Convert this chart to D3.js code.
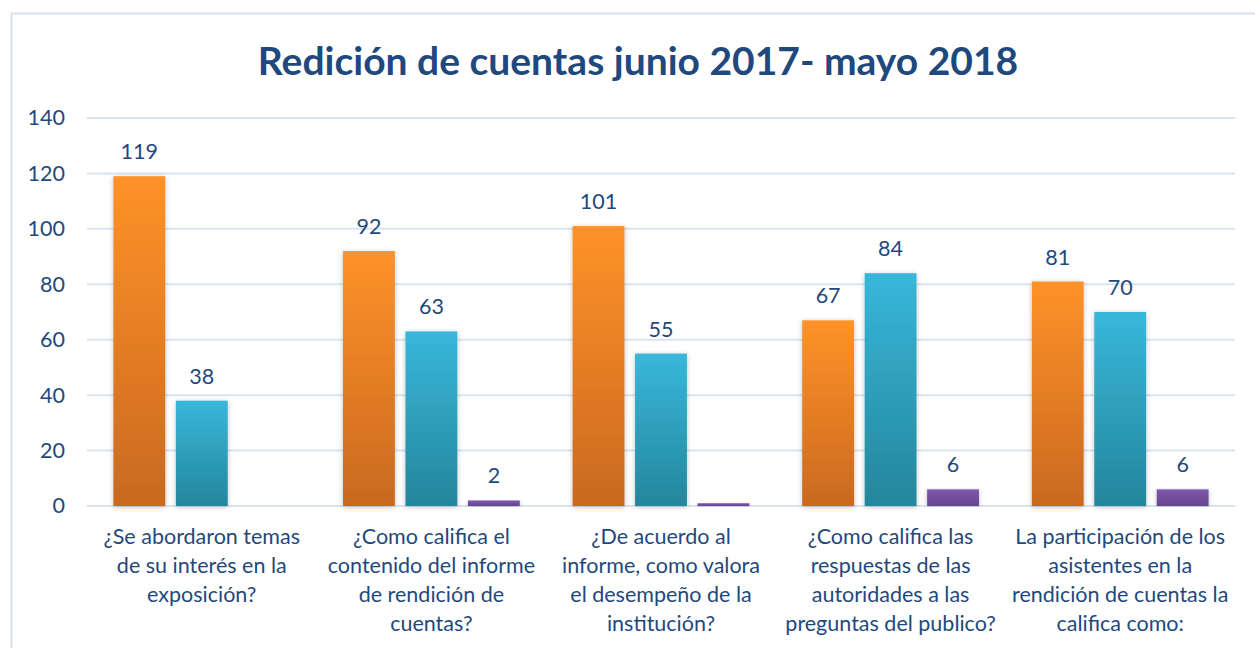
<!DOCTYPE html>
<html>
<head>
<meta charset="utf-8">
<script src="https://cdn.jsdelivr.net/npm/d3@7"></script>
<style>
  body { margin: 0; background: #fff; }
  svg { font-family: Lato, "Open Sans", sans-serif; }
</style>
</head>
<body>
<div id="my_dataviz"></div>
<script>
// chart data
const categories = [
  ["¿Se abordaron temas", "de su interés en la", "exposición?"],
  ["¿Como califica el", "contenido del informe", "de rendición de", "cuentas?"],
  ["¿De acuerdo al", "informe, como valora", "el desempeño de la", "institución?"],
  ["¿Como califica las", "respuestas de las", "autoridades a las", "preguntas del publico?"],
  ["La participación de los", "asistentes en la", "rendición de cuentas la", "califica como:"]
]
const seriesA = [119, 92, 101, 67, 81]
const seriesB = [38, 63, 55, 84, 70]
const seriesC = [0, 2, 1, 6, 6]
const yTicks = [0, 20, 40, 60, 80, 100, 120, 140]
const title = "Redición de cuentas junio 2017- mayo 2018"

const W = 1255, H = 648
const margin = { top: 118, left: 87, right: 20, bottom: 142 }
const plotW = 1235 - margin.left
const plotH = 506 - margin.top
const textColor = "#1f497d"

var svg = d3.select("#my_dataviz")
  .append("svg")
    .attr("width", W)
    .attr("height", H)

// gradients for the bars
const defs = svg.append("defs")
const grads = [
  { id: "gA", top: "#ff9229", bottom: "#c9691f" },
  { id: "gB", top: "#38b7da", bottom: "#24869c" },
  { id: "gC", top: "#8057ae", bottom: "#684490" }
]
grads.forEach(function(g) {
  var lg = defs.append("linearGradient")
    .attr("id", g.id)
    .attr("x1", 0).attr("y1", 0).attr("x2", 0).attr("y2", 1)
  lg.append("stop").attr("offset", "0%").attr("stop-color", g.top)
  lg.append("stop").attr("offset", "100%").attr("stop-color", g.bottom)
})
var f = defs.append("filter").attr("id", "shadow")
  .attr("x", "-20%").attr("y", "-5%").attr("width", "140%").attr("height", "110%")
f.append("feDropShadow").attr("dx", 0).attr("dy", 1).attr("stdDeviation", 2.5)
  .attr("flood-color", "#000").attr("flood-opacity", 0.25)

// chart border
svg.append("rect")
  .attr("x", 11.5).attr("y", 13.5)
  .attr("width", W + 20).attr("height", H + 20)
  .attr("fill", "none")
  .attr("stroke", "#d5e2f2")
  .attr("stroke-width", 2)

// title
svg.append("text")
  .attr("x", 638)
  .attr("y", 75)
  .attr("text-anchor", "middle")
  .attr("font-size", 39)
  .attr("font-weight", "bold")
  .attr("fill", textColor)
  .text(title)

var g = svg.append("g")
  .attr("transform", "translate(" + margin.left + "," + margin.top + ")")

// scales
var x0 = d3.scaleBand()
  .domain(d3.range(categories.length))
  .range([0, plotW])
  .paddingInner(0.23)
  .paddingOuter(0.115)

var x1 = d3.scaleBand()
  .domain([0, 1, 2])
  .range([0, x0.bandwidth()])
  .paddingInner(0.17)

var y = d3.scaleLinear()
  .domain([0, 140])
  .range([plotH, 0])

// gridlines
g.append("g")
  .selectAll("line")
  .data(yTicks)
  .join("line")
    .attr("x1", 0).attr("x2", plotW)
    .attr("y1", function(d) { return y(d) })
    .attr("y2", function(d) { return y(d) })
    .attr("stroke", "#d9e4f3")
    .attr("stroke-width", 2)

// y axis
var yAxis = g.append("g")
  .call(d3.axisLeft(y).tickValues(yTicks).tickSize(0).tickPadding(22))
yAxis.select(".domain").remove()
yAxis.selectAll("text")
  .attr("font-size", 21.5)
  .attr("font-family", "Lato, sans-serif")
  .attr("fill", textColor)

// bars
const series = [seriesA, seriesB, seriesC]
var rows = []
categories.forEach(function(c, i) {
  series.forEach(function(s, j) {
    rows.push({ cat: i, ser: j, value: s[i] })
  })
})

g.append("g")
  .selectAll("rect")
  .data(rows.filter(function(d) { return d.value > 0 }))
  .join("rect")
    .attr("x", function(d) { return x0(d.cat) + x1(d.ser) })
    .attr("y", function(d) { return y(d.value) })
    .attr("width", x1.bandwidth())
    .attr("height", function(d) { return plotH - y(d.value) })
    .attr("fill", function(d) { return "url(#" + grads[d.ser].id + ")" })
    .attr("filter", "url(#shadow)")

// value labels
g.append("g")
  .selectAll("text")
  .data(rows.filter(function(d) { return d.value > 1 }))
  .join("text")
    .attr("x", function(d) { return x0(d.cat) + x1(d.ser) + x1.bandwidth() / 2 })
    .attr("y", function(d) { return y(d.value) - 17 })
    .attr("text-anchor", "middle")
    .attr("font-size", 21.5)
    .attr("fill", textColor)
    .text(function(d) { return d.value })

// category labels
var cat = g.append("g")
  .selectAll("text")
  .data(categories)
  .join("text")
    .attr("x", function(d, i) { return x0(i) + x0.bandwidth() / 2 })
    .attr("y", plotH + 38)
    .attr("text-anchor", "middle")
    .attr("font-size", 21.5)
    .attr("fill", textColor)
cat.selectAll("tspan")
  .data(function(d) { return d })
  .join("tspan")
    .attr("x", function() { return d3.select(this.parentNode).attr("x") })
    .attr("dy", function(d, i) { return i === 0 ? 0 : 29 })
    .text(function(d) { return d })
</script>
</body>
</html>
